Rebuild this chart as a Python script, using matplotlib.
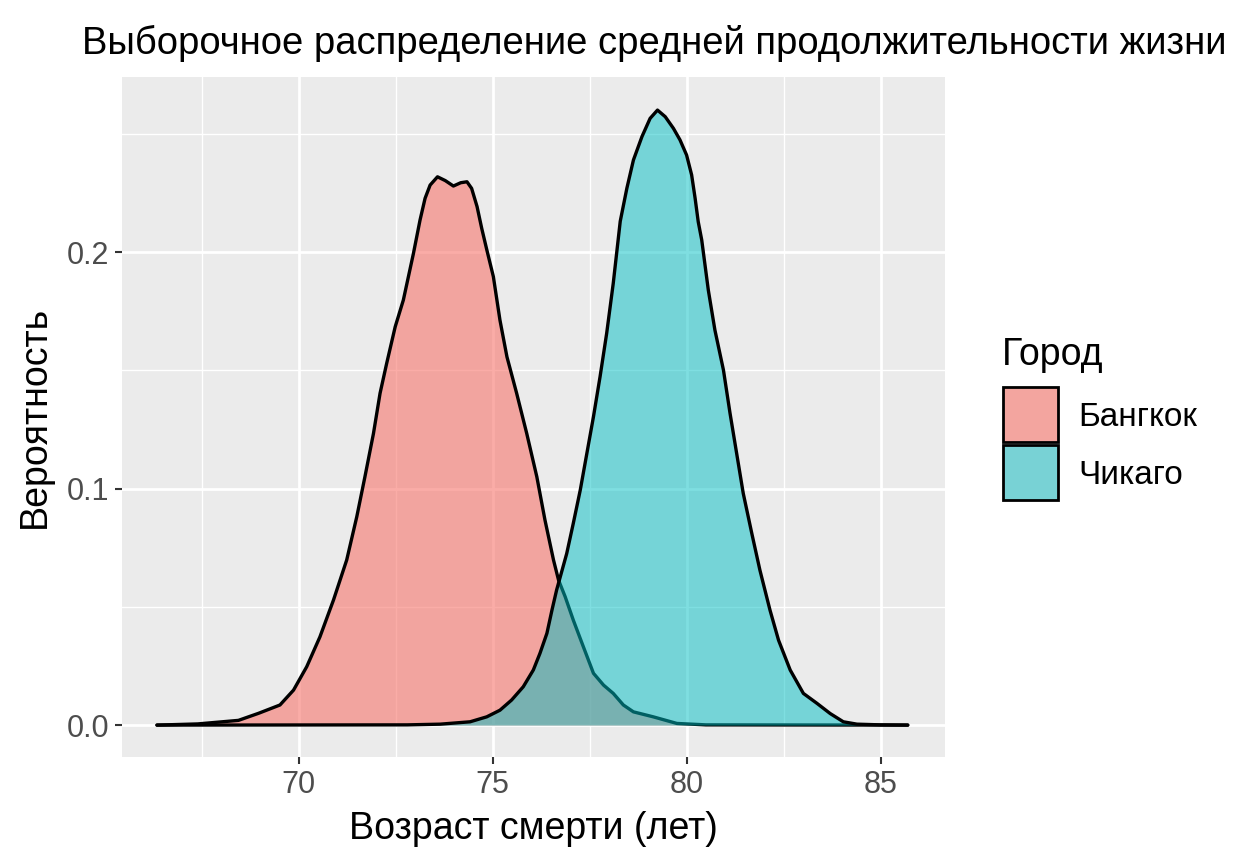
import matplotlib.pyplot as plt
from matplotlib.patches import Rectangle

# Values (density of sample means, x = age)
bangkok_x = [66.35, 67.4, 68.45, 68.97, 69.52, 69.87, 70.21, 70.55, 70.90, 71.24,
             71.50, 71.71, 71.93, 72.10, 72.27, 72.49, 72.70, 72.96, 73.13, 73.26,
             73.39, 73.58, 73.78, 73.99, 74.18, 74.34, 74.46, 74.60, 74.72, 74.85,
             75.02, 75.19, 75.37, 75.62, 75.88, 76.14, 76.35, 76.57, 76.70, 76.87,
             77.08, 77.34, 77.60, 77.86, 78.11, 78.37, 78.63, 79.14, 79.75, 80.5,
             85.7]
bangkok_y = [0.0, 0.0005, 0.002, 0.005, 0.0085, 0.0148, 0.0247, 0.0373, 0.0529, 0.0698,
             0.0881, 0.105, 0.1233, 0.1403, 0.1529, 0.1684, 0.1797, 0.1994, 0.2135, 0.2227,
             0.2283, 0.2318, 0.2302, 0.2279, 0.2293, 0.2297, 0.2269, 0.2192, 0.2100, 0.2010,
             0.1896, 0.1712, 0.1557, 0.1403, 0.1233, 0.1050, 0.0867, 0.0698, 0.0613, 0.0543,
             0.0444, 0.0331, 0.0219, 0.0169, 0.0134, 0.0085, 0.0056, 0.0035, 0.0007, 0.0001,
             0.0]

chicago_x = [66.35, 72.8, 73.65, 74.42, 74.85, 75.19, 75.49, 75.79, 76.05, 76.22,
             76.40, 76.53, 76.65, 76.91, 77.08, 77.26, 77.43, 77.60, 77.77, 77.94,
             78.11, 78.29, 78.46, 78.63, 78.85, 79.06, 79.25, 79.45, 79.66, 79.83,
             80.0, 80.13, 80.22, 80.30, 80.39, 80.56, 80.73, 80.95, 81.12, 81.29,
             81.46, 81.68, 81.89, 82.15, 82.37, 82.67, 83.01, 83.36, 83.70, 84.04,
             84.39, 85.0, 85.7]
chicago_y = [0.0, 0.0001, 0.0004, 0.0014, 0.0035, 0.0063, 0.0106, 0.0162, 0.0233, 0.0303,
             0.0388, 0.0486, 0.0571, 0.0725, 0.0853, 0.0994, 0.1149, 0.1304, 0.1473, 0.1656,
             0.1868, 0.2130, 0.2269, 0.2389, 0.2488, 0.2565, 0.2600, 0.2572, 0.2523, 0.2474,
             0.2410, 0.2326, 0.2227, 0.2128, 0.2051, 0.1839, 0.1670, 0.1501, 0.1318, 0.1149,
             0.0980, 0.0811, 0.0655, 0.0486, 0.0359, 0.0233, 0.0134, 0.0092, 0.0049, 0.0014,
             0.0004, 0.0001, 0.0]

cities = ["Бангкок", "Чикаго"]
colors = ["#F8766D", "#00BFC4"]
alphas = [0.6, 0.5]
key_colors = ["#F3A59F", "#78D2D5"]  # fill composited on the grey panel

plt.rcParams["font.family"] = ["Liberation Sans", "DejaVu Sans"]

W, H = 1234, 864
fig = plt.figure(figsize=(W / 100, H / 100), dpi=100)
ax = fig.add_axes([0.0989, 0.1238, 0.6669, 0.7871])
ax.set_facecolor("#EBEBEB")

for xs, ys, c, a in zip([bangkok_x, chicago_x], [bangkok_y, chicago_y], colors, alphas):
    ax.fill_between(xs, ys, 0, color=c, alpha=a, lw=0, zorder=3)
    ax.plot(xs, ys, color="black", lw=2.4, zorder=3,
            solid_capstyle="round", solid_joinstyle="round")

ax.set_xlim(65.45, 86.66)
ax.set_ylim(-0.0135, 0.274)
ax.set_xticks([70, 75, 80, 85])
ax.set_xticks([67.5, 72.5, 77.5, 82.5], minor=True)
ax.set_yticks([0.0, 0.1, 0.2])
ax.set_yticklabels(["0.0", "0.1", "0.2"])
ax.set_yticks([0.05, 0.15, 0.25], minor=True)
ax.grid(which="major", color="white", lw=2.0, zorder=1)
ax.grid(which="minor", color="white", lw=1.0, zorder=1)
ax.set_axisbelow(True)
for s in ax.spines.values():
    s.set_visible(False)
ax.tick_params(which="major", length=5, width=1.5, color="#333333",
               labelsize=22, labelcolor="#4D4D4D", pad=4)
ax.tick_params(which="minor", length=0)

ax.set_xlabel("Возраст смерти (лет)", fontsize=27, labelpad=8)
ax.set_ylabel("Вероятность", fontsize=27, labelpad=10)
fig.text(82 / W, 0.938, "Выборочное распределение средней продолжительности жизни",
         fontsize=27.5, ha="left", va="baseline")

# legend drawn by hand so the keys are large and touching, like ggplot's
fig.text(1002 / W, 1 - 365 / H, "Город", fontsize=27, ha="left", va="baseline")
key_top = [387, 445]
for top, k, name in zip(key_top, key_colors, cities):
    fig.add_artist(Rectangle((1003 / W, 1 - (top + 55) / H), 55 / W, 55 / H,
                             transform=fig.transFigure, facecolor=k,
                             edgecolor="black", lw=2))
    fig.text(1078 / W, 1 - (top + 27.5) / H, name, fontsize=24,
             ha="left", va="center_baseline")

fig.savefig("out.png", dpi=100)
